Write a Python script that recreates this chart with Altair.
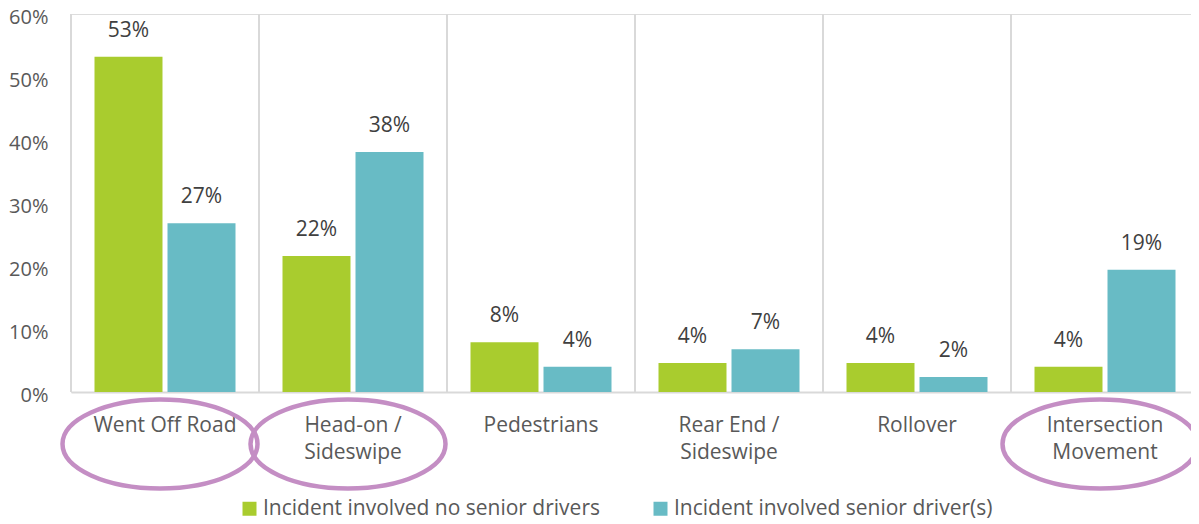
import altair as alt
import pandas as pd

categories = ["Went Off Road", "Head-on /\nSideswipe", "Pedestrians",
              "Rear End /\nSideswipe", "Rollover", "Intersection\nMovement"]
series = ["Incident involved no senior drivers", "Incident involved senior driver(s)"]
no_senior = [53.2, 21.6, 7.9, 4.6, 4.6, 4.0]
senior = [26.8, 38.1, 4.0, 6.8, 2.4, 19.4]
no_senior_labels = ["53%", "22%", "8%", "4%", "4%", "4%"]
senior_labels = ["27%", "38%", "4%", "7%", "2%", "19%"]
highlighted = ["Went Off Road", "Head-on /\nSideswipe", "Intersection\nMovement"]
y_ticks = [0, 10, 20, 30, 40, 50, 60]
colors = ["#A9CC2E", "#68BBC5"]

rows = []
for i, c in enumerate(categories):
    rows.append({"category": c, "series": series[0], "value": no_senior[i], "label": no_senior_labels[i]})
    rows.append({"category": c, "series": series[1], "value": senior[i], "label": senior_labels[i]})
df = pd.DataFrame(rows)
cat_df = pd.DataFrame({"category": categories})
hl_df = pd.DataFrame({"category": highlighted})

FONT = "Open Sans"
FS = 21
x_scale = alt.Scale(domain=categories, range=[0, 1128], paddingInner=0, paddingOuter=0)
xo_scale = alt.Scale(domain=series, paddingInner=0.0685, paddingOuter=0.3219)
y_scale = alt.Scale(domain=[0, 60], nice=False)

x_axis = alt.Axis(labelExpr="split(datum.value, '\\n')", labelAngle=0, labelFontSize=FS,
                  labelColor="#595959", labelFont=FONT, labelPadding=22, labelLineHeight=27,
                  ticks=False, tickSize=0, domainColor="#D9D9D9", domainWidth=2, grid=False,
                  title=None)
y_axis = alt.Axis(values=y_ticks, labelExpr="datum.value + '%'", domain=False, ticks=False,
                  tickSize=0, grid=False, labelFontSize=20, labelColor="#595959", labelFont=FONT,
                  labelPadding=23, labelOffset=3, title=None)

dividers = alt.Chart(cat_df).mark_rule(color="#D9D9D9", strokeWidth=2).encode(
    x=alt.X("category:N", scale=x_scale, bandPosition=0, axis=x_axis),
    y=alt.value(0),
    y2=alt.value(378),
)

bars = alt.Chart(df).mark_bar().encode(
    x=alt.X("category:N", scale=x_scale, axis=x_axis),
    xOffset=alt.XOffset("series:N", scale=xo_scale),
    y=alt.Y("value:Q", scale=y_scale, axis=y_axis),
    color=alt.Color("series:N", scale=alt.Scale(domain=series, range=colors),
                    legend=alt.Legend(orient="none", legendX=168, legendY=484,
                                      direction="horizontal", title=None, symbolType="square",
                                      symbolSize=196, symbolStrokeWidth=0, symbolOpacity=1,
                                      labelFontSize=FS, labelColor="#595959", labelFont=FONT,
                                      labelLimit=0, columnPadding=50, labelOffset=3, padding=0)),
)

labels = alt.Chart(df).mark_text(dy=-26, fontSize=FS, color="#404040", font=FONT,
                                 baseline="middle", align="center").encode(
    x=alt.X("category:N", scale=x_scale, axis=x_axis),
    xOffset=alt.XOffset("series:N", scale=xo_scale),
    y=alt.Y("value:Q", scale=y_scale, axis=y_axis),
    text="label:N",
)

ELLIPSE = "M-1,0A1,0.456 0 1 0 1,0A1,0.456 0 1 0 -1,0Z"
ellipses = alt.Chart(hl_df).mark_point(shape=ELLIPSE, size=38025, filled=False, color="#C48EC4",
                                       strokeWidth=4.5, opacity=1, xOffset=-5).encode(
    x=alt.X("category:N", scale=x_scale, axis=x_axis),
    y=alt.value(430),
)

chart = alt.layer(dividers, bars, labels, ellipses).properties(
    width=1120, height=378,
    autosize=alt.AutoSizeParams(type="none"),
    padding={"left": 63, "top": 6, "right": 0, "bottom": 128},
).configure_view(stroke=None).configure(font=FONT)

chart.save("out.html", embed_options={"renderer": "svg", "actions": False})
